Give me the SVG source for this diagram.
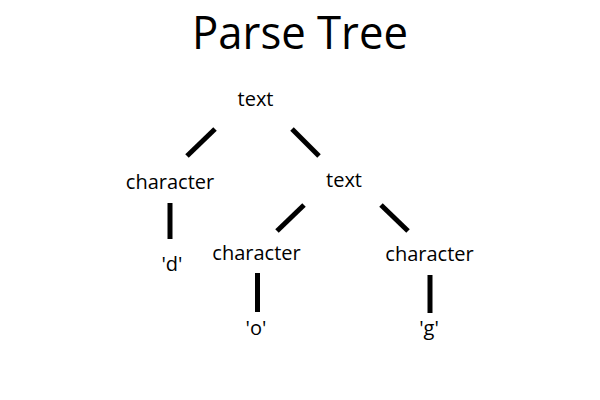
<svg xmlns="http://www.w3.org/2000/svg" width="600" height="400" viewBox="0 0 600 400">
<style>
text{font-family:"Open Sans","Noto Sans",sans-serif;fill:#000;text-anchor:middle}
.t{font-size:46px}
.n{font-size:20px}
.e{stroke:#000;stroke-width:5;fill:none}
</style>
<rect width="600" height="400" fill="#fff"/>
<text class="t" x="300" y="48.5" textLength="216" lengthAdjust="spacingAndGlyphs">Parse Tree</text>
<g id="connectors">
<line class="e" x1="215" y1="129" x2="187" y2="156"/>
<line class="e" x1="292" y1="129" x2="319" y2="156"/>
<line class="e" x1="170" y1="203" x2="170" y2="239"/>
<line class="e" x1="304" y1="205" x2="277" y2="231"/>
<line class="e" x1="381" y1="205" x2="408" y2="231"/>
<line class="e" x1="257.5" y1="273" x2="257.5" y2="312"/>
<line class="e" x1="430" y1="275" x2="430" y2="313"/>
</g>
<g id="n1"><text class="n" x="255.5" y="106">text</text></g>
<g id="n2"><text class="n" x="170" y="189">character</text></g>
<g id="n3"><text class="n" x="344" y="187">text</text></g>
<g id="n4"><text class="n" x="172" y="271">'d'</text></g>
<g id="n5"><text class="n" x="256.5" y="260">character</text></g>
<g id="n6"><text class="n" x="429.5" y="261">character</text></g>
<g id="n7"><text class="n" x="256" y="335">'o'</text></g>
<g id="n8"><text class="n" x="429" y="335">'g'</text></g>
</svg>
